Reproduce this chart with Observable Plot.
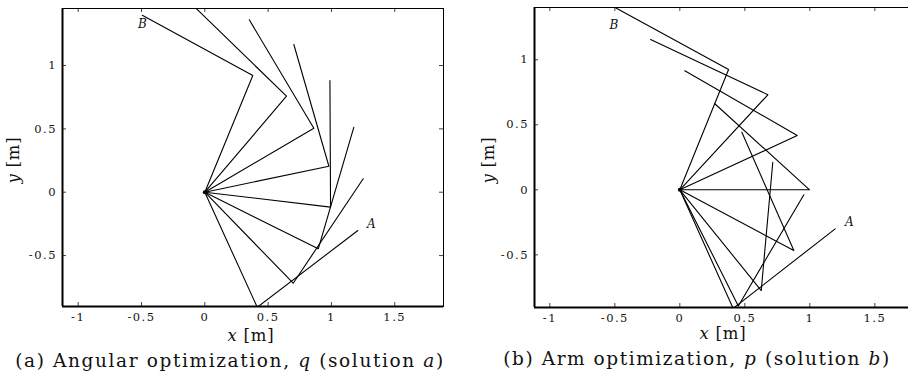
<!DOCTYPE html>
<html><head><meta charset="utf-8">
<script src="https://cdn.jsdelivr.net/npm/d3@7"></script>
<script src="https://cdn.jsdelivr.net/npm/@observablehq/plot@0.6"></script>
<style>
body{margin:0;background:#fff;}
#wrap{position:relative;width:908px;height:376px;overflow:hidden;background:#fff;font-family:"DejaVu Serif","Liberation Serif",serif;color:#111;}
.panel{position:absolute;top:0;width:480px;}
.panel svg{max-width:none !important;}
.lbl,.cap{position:absolute;white-space:nowrap;line-height:1;}
.lbl{font-size:16.5px;}
.cap{font-size:18.5px;}
[aria-label*="tick label"] text{letter-spacing:1.5px;}
</style></head><body><div id="wrap"></div>
<script>
// tick values
const xTicks = [-1, -0.5, 0, 0.5, 1, 1.5];
const yTicks = [-0.5, 0, 0.5, 1];
const originPt = [{x: 0, y: 0}];

// (a) Angular optimization: elbow and end-effector positions, from A to B
const aElbowX = [0.414, 0.698, 0.896, 0.993, 0.980, 0.861, 0.645, 0.379];
const aElbowY = [-0.908, -0.718, -0.447, -0.118, 0.205, 0.505, 0.758, 0.921];
const aEndX   = [1.209, 1.251, 1.177, 0.988, 0.703, 0.351, -0.073, -0.494];
const aEndY   = [-0.302, 0.106, 0.513, 0.882, 1.166, 1.361, 1.455, 1.397];
const aLabelText = ["A", "B"];
const aLabelX = [1.315, -0.492];
const aLabelY = [-0.25, 1.325];

// (b) Arm optimization
const bElbowX = [0.41, 0.45, 0.626, 0.877, 0.998, 0.903, 0.677, 0.375];
const bElbowY = [-0.912, -0.893, -0.775, -0.467, 0.0, 0.418, 0.731, 0.925];
const bEndX   = [1.195, 0.954, 0.715, 0.477, 0.269, 0.038, -0.225, -0.495];
const bEndY   = [-0.30, -0.038, 0.212, 0.443, 0.662, 0.915, 1.156, 1.40];
const bLabelText = ["A", "B"];
const bLabelX = [1.303, -0.508];
const bLabelY = [-0.249, 1.269];

function arms(ex, ey, px, py) {
  const rows = [];
  ex.forEach((_, i) => {
    rows.push({k: i, x: 0, y: 0}, {k: i, x: ex[i], y: ey[i]}, {k: i, x: px[i], y: py[i]});
  });
  return rows;
}
function labels(t, lx, ly) { return t.map((s, i) => ({t: s, x: lx[i], y: ly[i]})); }

function panel({rows, labs, xDomain, yDomain, width, mL, mR, mT, mB}) {
  const H = 376 - mT - mB, W = width - mL - mR;
  return Plot.plot({
    width, height: 376, marginLeft: mL, marginRight: mR, marginTop: mT, marginBottom: mB,
    x: {domain: xDomain, label: null},
    y: {domain: yDomain, label: null},
    style: {fontFamily: "'DejaVu Serif','Liberation Serif',serif", fontSize: "11.5px", color: "#111", background: "transparent"},
    marks: [
      Plot.line(rows, {x: "x", y: "y", z: "k", stroke: "#000", strokeWidth: 1.1, clip: true}),
      Plot.dot(originPt, {x: "x", y: "y", r: 2, fill: "#000"}),
      Plot.text(labs, {x: "x", y: "y", text: "t", fontStyle: "italic", fontSize: 12, fill: "#111"}),
      Plot.tickX(xTicks, {x: d => d, insetTop: H - 4, stroke: "#444"}),
      Plot.tickX(xTicks, {x: d => d, insetBottom: H - 4, stroke: "#444"}),
      Plot.tickY(yTicks, {y: d => d, insetRight: W - 4, stroke: "#444"}),
      Plot.tickY(yTicks, {y: d => d, insetLeft: W - 4, stroke: "#444"}),
      Plot.frame({stroke: "#000", strokeWidth: 1}),
      Plot.ruleX([xDomain[0]], {stroke: "#000", strokeWidth: 2}),
      Plot.ruleY([yDomain[0]], {stroke: "#000", strokeWidth: 2}),
      Plot.axisX({ticks: xTicks, tickSize: 0, tickPadding: 6, tickFormat: d => String(d), label: null}),
      Plot.axisY({ticks: yTicks, tickSize: 0, tickPadding: 5.5, tickFormat: d => String(d), label: null})
    ]
  });
}

const wrap = document.getElementById("wrap");
function addPanel(svg, left) {
  const d = document.createElement("div");
  d.className = "panel"; d.style.left = left + "px";
  d.appendChild(svg); wrap.appendChild(d);
}
addPanel(panel({rows: arms(aElbowX, aElbowY, aEndX, aEndY), labs: labels(aLabelText, aLabelX, aLabelY),
  xDomain: [-1.124, 1.885], yDomain: [-0.902, 1.450], width: 454, mL: 62, mR: 11, mT: 8, mB: 70}), 0);
addPanel(panel({rows: arms(bElbowX, bElbowY, bEndX, bEndY), labs: labels(bLabelText, bLabelX, bLabelY),
  xDomain: [-1.118, 1.882], yDomain: [-0.905, 1.402], width: 480, mL: 80, mR: 10, mT: 7, mB: 69}), 454);

function addText(cls, html, cx, cy, target, rot) {
  const d = document.createElement("div");
  d.className = cls; d.innerHTML = html; wrap.appendChild(d);
  const w = d.offsetWidth;
  const n = d.textContent.length;
  d.style.letterSpacing = Math.max(0, (target - w) / n) + "px";
  d.style.left = cx + "px"; d.style.top = cy + "px";
  d.style.transform = "translate(-50%,-50%)" + (rot ? " rotate(-90deg)" : "");
}
addText("lbl", "<i>x</i> [m]", 251, 336, 47);
addText("lbl", "<i>x</i> [m]", 723, 334, 47);
addText("lbl", "<i>y</i> [m]", 14, 160, 47, true);
addText("lbl", "<i>y</i> [m]", 489, 160, 47, true);
addText("cap", "(a) Angular optimization, <i>q</i> (solution <i>a</i>)", 230, 361, 430);
addText("cap", "(b) Arm optimization, <i>p</i> (solution <i>b</i>)", 697, 359, 387);
</script></body></html>
